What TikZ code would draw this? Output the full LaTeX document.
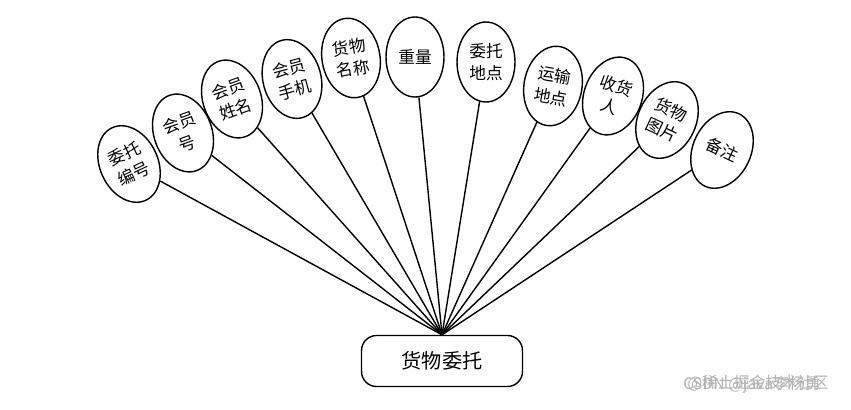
\documentclass[tikz,border=0pt]{standalone}
\usepackage{fontspec}
\setmainfont{Noto Sans CJK SC}
\usetikzlibrary{shapes.geometric}

\begin{document}
\begin{tikzpicture}[x=0.02cm,y=-0.02cm,
  attr/.style={draw, ellipse, thick, inner sep=0pt, minimum width=1.16cm,
    minimum height=1.6cm, align=center, font=\fontsize{9.5}{12.5}\selectfont},
  entity/.style={draw, thick, rounded corners=0.3cm, minimum width=3.22cm,
    minimum height=1.02cm, font=\fontsize{11.5}{13}\selectfont}]
  \useasboundingbox (0,0) rectangle (851,409);
  \node[entity] (hwwt) at (442,361) {货物委托};
  \node[attr, rotate=25] (wtbh) at (129,164) {委托\\编号};
  \node[attr, rotate=20] (hyh) at (183,133) {会员\\号};
  \node[attr, rotate=20] (hyxm) at (232,99) {会员\\姓名};
  \node[attr, rotate=15] (hysj) at (292,79) {会员\\手机};
  \node[attr, rotate=10] (hwmc) at (351,58) {货物\\名称};
  \node[attr] (zl) at (415,57) {重量};
  \node[attr] (wtdd) at (486,62) {委托\\地点};
  \node[attr, rotate=-10] (ysdd) at (553,86) {运输\\地点};
  \node[attr, rotate=-20] (shr) at (613,96) {收货\\人};
  \node[attr, rotate=-25] (hwtp) at (667,120) {货物\\图片};
  \node[attr, rotate=-25] (bz) at (722,150) {备注};
  \foreach \a in {wtbh,hyh,hyxm,hysj,hwmc,zl,wtdd,ysdd,shr,hwtp,bz}
    \draw[thick] (hwwt.north) -- (\a);
  % watermark
  \node[text=gray!60, font=\fontsize{9}{11}\selectfont] (wm1) at (758,383) {@稀土掘金技术社区};
  \node[text=gray!60, font=\fontsize{9}{11}\selectfont] (wm2) at (752,385) {CSDN @java李杨勇};
\end{tikzpicture}
\end{document}
